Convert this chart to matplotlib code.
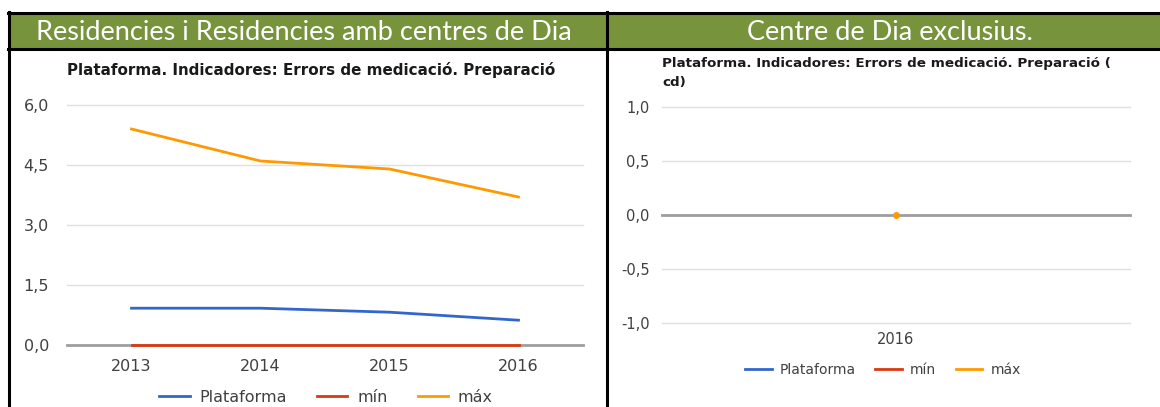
import matplotlib
matplotlib.use("Agg")
import matplotlib.pyplot as plt
from matplotlib.lines import Line2D
from matplotlib.patches import Rectangle

W, H = 1160, 407
years_left = ["2013", "2014", "2015", "2016"]
plataforma_left = [0.92, 0.92, 0.82, 0.62]
min_left = [0.0, 0.0, 0.0, 0.0]
max_left = [5.4, 4.6, 4.4, 3.7]
yticks_left = [0.0, 1.5, 3.0, 4.5, 6.0]

years_right = ["2016"]
plataforma_right = [0.0]
min_right = [0.0]
max_right = [0.0]
yticks_right = [-1.0, -0.5, 0.0, 0.5, 1.0]

header_left = "Residencies i Residencies amb centres de Dia"
header_right = "Centre de Dia exclusius."
title_left = "Plataforma. Indicadores: Errors de medicació. Preparació"
title_right = "Plataforma. Indicadores: Errors de medicació. Preparació (\ncd)"
series_names = ["Plataforma", "mín", "máx"]

BLUE, RED, ORANGE = "#3366CC", "#DC3912", "#FF9900"
GREEN = "#77933C"
FONT = ["DejaVu Sans"]

fig = plt.figure(figsize=(W / 100, H / 100), dpi=100)
fig.patch.set_facecolor("white")

def fx(x):
    return x / W

def fy(y):
    return 1 - y / H

# header band and frame
fig.patches.append(Rectangle((fx(8), fy(49)), fx(W - 8), (49 - 13) / H,
                             transform=fig.transFigure, facecolor=GREEN,
                             edgecolor="none", zorder=0))
for (x0, y0, x1, y1) in [(8, 13, W, 13), (8, 49, W, 49)]:
    fig.lines.append(Line2D([fx(x0), fx(x1)], [fy(y0), fy(y1)],
                            transform=fig.transFigure, color="black", lw=2.2))
for x in [9, 607]:
    fig.lines.append(Line2D([fx(x), fx(x)], [fy(12), fy(H)],
                            transform=fig.transFigure, color="black", lw=2.2))

fig.text(fx(304), fy(32), header_left, color="white", fontsize=19.5,
         family=["Lato", "DejaVu Sans"], ha="center", va="center")
fig.text(fx(890), fy(32), header_right, color="white", fontsize=19.5,
         family=["Lato", "DejaVu Sans"], ha="center", va="center")


def make_axes(left, right, top, bottom, years, plat, mn, mx, yticks, ylim,
              ypad, xpad, tsize):
    ax = fig.add_axes([fx(left), fy(bottom), fx(right - left), (bottom - top) / H])
    n = len(years)
    xs = list(range(n))
    ax.set_xlim(-0.5, n - 0.5)
    ax.set_ylim(*ylim)
    for s in ax.spines.values():
        s.set_visible(False)
    for t in yticks:
        if t == 0:
            ax.axhline(t, color="#9E9E9E", lw=2.0, zorder=1, clip_on=False)
        else:
            ax.axhline(t, color="#E0E0E0", lw=1.0, zorder=0, clip_on=False)
    ax.set_yticks(yticks)
    ax.set_yticklabels([f"{t:.1f}".replace(".", ",") for t in yticks])
    ax.set_xticks(xs)
    ax.set_xticklabels(years)
    ax.tick_params(length=0, labelsize=tsize, colors="#404040")
    for lab in ax.get_xticklabels() + ax.get_yticklabels():
        lab.set_family(FONT)
    ax.tick_params(axis="y", pad=ypad)
    ax.tick_params(axis="x", pad=xpad)
    ax.plot(xs, plat, color=BLUE, lw=2, zorder=3, clip_on=False)
    ax.plot(xs, mn, color=RED, lw=2, zorder=3, clip_on=False)
    ax.plot(xs, mx, color=ORANGE, lw=2, zorder=3, clip_on=False)
    if n == 1:
        ax.plot(xs, mx, "o", color=ORANGE, ms=4, zorder=4, clip_on=False)
    return ax

axL = make_axes(67, 583, 105, 345, years_left, plataforma_left, min_left,
                max_left, yticks_left, (0, 6), 13, 10, 11.5)
axR = make_axes(662, 1130, 107, 323, years_right, plataforma_right, min_right,
                max_right, yticks_right, (-1, 1), 9, 6.5, 10.5)

fig.text(fx(311), fy(70), title_left, fontsize=10.9, fontweight="bold",
         family=FONT, ha="center", va="center", color="#1a1a1a")
fig.text(fx(662), fy(73), title_right, fontsize=9.7, fontweight="bold",
         family=FONT, ha="left", va="center", color="#1a1a1a",
         linespacing=1.6)

handles = [Line2D([], [], color=c, lw=2) for c in (BLUE, RED, ORANGE)]
for cx, cy, sz, cs in [(326, 397, 11.5, 1.9), (883, 370, 10, 1.4)]:
    leg = fig.legend(handles, series_names, loc="center",
                     bbox_to_anchor=(fx(cx), fy(cy)), ncol=3, frameon=False,
                     handlelength=1.9, handletextpad=0.6, columnspacing=cs,
                     prop={"family": FONT, "size": sz})
    for t in leg.get_texts():
        t.set_color("#404040")

fig.savefig("out.png", dpi=100)
